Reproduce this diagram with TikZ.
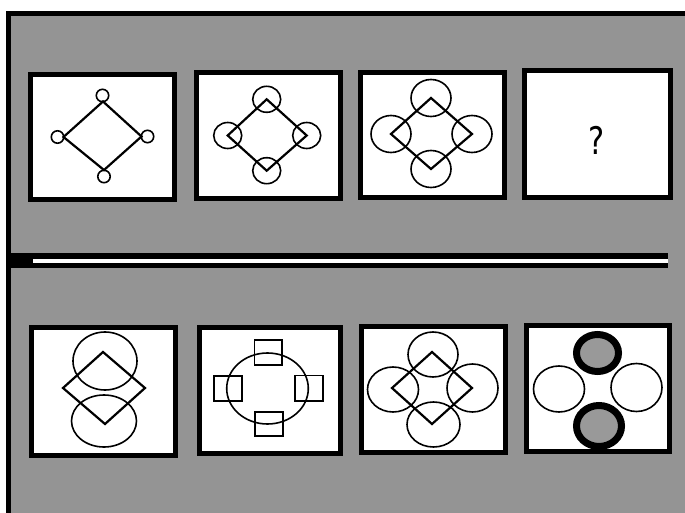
\documentclass[tikz,border=0pt]{standalone}
\usepackage{fontspec}
\newfontfamily\qfont{DejaVu Sans}
\begin{document}
\begin{tikzpicture}[x=1pt,y=-1pt,
  bg/.style={fill=black!42,draw=black,line width=5pt},
  panel/.style={fill=white,draw=black,line width=5pt},
  dia/.style={draw=black,line width=2.2pt,line join=miter},
  ring/.style={draw=black,line width=1.6pt},
  thickring/.style={draw=black,line width=7pt,fill=black!40}]
\useasboundingbox (0,0) rectangle (685,513);
\clip (0,0) rectangle (685,513);
% background
\draw[bg] (8,14) rectangle (690,518);
% divider
\fill[black] (8,253) rectangle (668,268);
\fill[white] (33,258.5) rectangle (668,263);
% top panels
\draw[panel] (30.5,74.5) rectangle (174.5,200);
\draw[panel] (196,72.5) rectangle (340,199);
\draw[panel] (360,72.5) rectangle (504.5,197.5);
\draw[panel] (524,70.5) rectangle (670,197.5);
% bottom panels
\draw[panel] (31,327.5) rectangle (175.5,455);
\draw[panel] (199.5,327.5) rectangle (340.5,453.5);
\draw[panel] (361,326.5) rectangle (505,452);
\draw[panel] (526.5,325.5) rectangle (669.5,451);
% top panel 1
\coordinate (a1t) at (103,101.5);
\coordinate (a1l) at (63.5,137);
\coordinate (a1r) at (141.5,136.5);
\coordinate (a1b) at (104,170);
\draw[dia] (a1t) -- (a1r) -- (a1b) -- (a1l) -- cycle;
\draw[ring] (102.5,95.5) circle[radius=6.2pt];
\draw[ring] (57.5,137) circle[radius=6.2pt];
\draw[ring] (147.5,136.5) circle[radius=6.2pt];
\draw[ring] (104,176.5) circle[radius=6.2pt];
% top panel 2
\coordinate (a2t) at (266.7,99.3);
\coordinate (a2l) at (227.7,135.5);
\coordinate (a2r) at (306.7,135.5);
\coordinate (a2b) at (266.7,170.7);
\draw[dia] (a2t) -- (a2r) -- (a2b) -- (a2l) -- cycle;
\foreach \p in {a2t,a2l,a2r,a2b}
  \draw[ring] (\p) ellipse[x radius=14pt,y radius=13pt];
% top panel 3
\coordinate (a3t) at (431,98);
\coordinate (a3l) at (391,134);
\coordinate (a3r) at (472,134);
\coordinate (a3b) at (431,169);
\draw[dia] (a3t) -- (a3r) -- (a3b) -- (a3l) -- cycle;
\foreach \p in {a3t,a3l,a3r,a3b}
  \draw[ring] (\p) ellipse[x radius=20pt,y radius=18.5pt];
% top panel 4
\node[font=\qfont\fontsize{38}{38}\selectfont,inner sep=0pt,xscale=0.8] (q) at (597,140) {?};
% bottom panel 1
\coordinate (b1t) at (103,352);
\coordinate (b1l) at (63,388);
\coordinate (b1r) at (145,388);
\coordinate (b1b) at (105,424);
\draw[ring] (105,361) ellipse[x radius=32pt,y radius=29pt];
\draw[ring] (104,421) ellipse[x radius=32.5pt,y radius=26pt];
\draw[dia] (b1t) -- (b1r) -- (b1b) -- (b1l) -- cycle;
% bottom panel 2
\draw[ring] (267.5,388.5) ellipse[x radius=40.8pt,y radius=35.5pt];
\draw[ring] (254.3,340) rectangle (281.7,365);
\draw[ring] (214,376) rectangle (241.7,400.7);
\draw[ring] (295,375.5) rectangle (322.7,400.7);
\draw[ring] (255,411.7) rectangle (282.7,436);
% bottom panel 3
\coordinate (b3t) at (432,352);
\coordinate (b3l) at (392,388);
\coordinate (b3r) at (472,388);
\coordinate (b3b) at (432,424);
\draw[dia] (b3t) -- (b3r) -- (b3b) -- (b3l) -- cycle;
\draw[ring] (433,354.5) ellipse[x radius=25pt,y radius=22.5pt];
\draw[ring] (393,389.5) ellipse[x radius=25.5pt,y radius=22.5pt];
\draw[ring] (472.5,388) ellipse[x radius=25.5pt,y radius=24pt];
\draw[ring] (433.5,424.5) ellipse[x radius=26.5pt,y radius=22.5pt];
% bottom panel 4
\draw[ring] (559,389) ellipse[x radius=25.5pt,y radius=23pt];
\draw[ring] (636.5,387.5) ellipse[x radius=25.5pt,y radius=24pt];
\draw[thickring] (597.5,353) ellipse[x radius=21pt,y radius=18.5pt];
\draw[thickring] (599,426) ellipse[x radius=22.5pt,y radius=20.5pt];
\end{tikzpicture}
\end{document}
